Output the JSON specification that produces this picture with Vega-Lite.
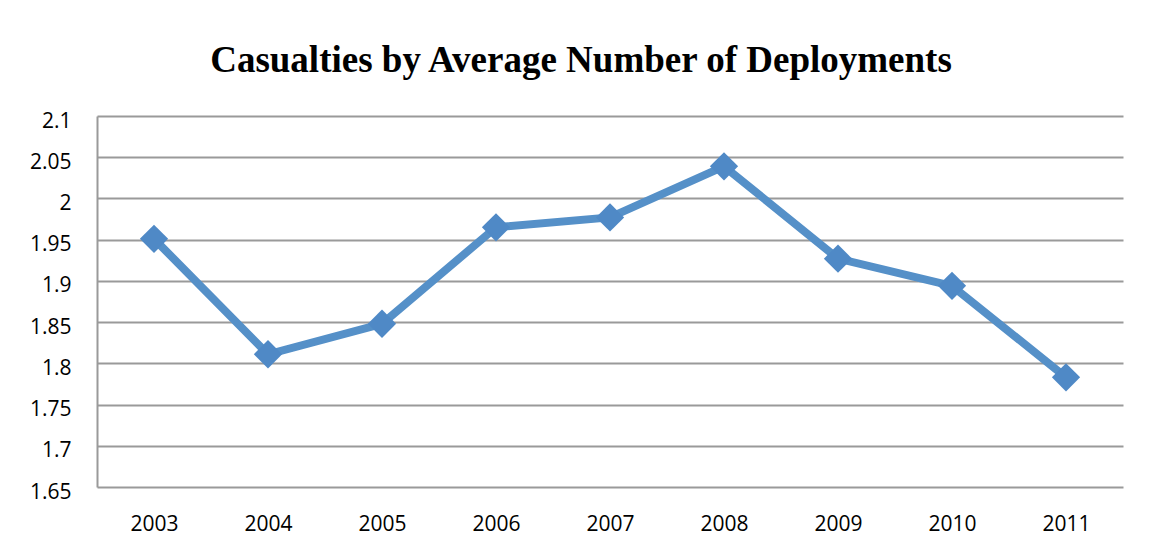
{
  "$schema": "https://vega.github.io/schema/vega-lite/v6.json",
  "autosize": "none",
  "width": 1026,
  "height": 371,
  "padding": {"left": 97, "top": 116, "right": 28, "bottom": 65},
  "background": "white",
  "title": {
    "text": "Casualties by Average Number of Deployments",
    "font": "Liberation Serif",
    "fontSize": 37,
    "fontWeight": "bold",
    "color": "black",
    "anchor": "middle",
    "frame": "group",
    "dx": -29,
    "baseline": "alphabetic",
    "offset": 1
  },
  "data": {
    "values": [
      {"year": "2003", "value": 1.951},
      {"year": "2004", "value": 1.811},
      {"year": "2005", "value": 1.848},
      {"year": "2006", "value": 1.965},
      {"year": "2007", "value": 1.977},
      {"year": "2008", "value": 2.039},
      {"year": "2009", "value": 1.927},
      {"year": "2010", "value": 1.894},
      {"year": "2011", "value": 1.783}
    ]
  },
  "config": {
    "view": {"stroke": null},
    "axis": {
      "labelFont": "Open Sans",
      "labelFontSize": 21,
      "labelColor": "black",
      "title": null,
      "ticks": false
    }
  },
  "encoding": {
    "x": {
      "field": "year",
      "type": "ordinal",
      "scale": {"type": "point", "padding": 0.5},
      "axis": {
        "labelAngle": 0,
        "labelPadding": 26,
        "domain": false,
        "grid": false
      }
    },
    "y": {
      "field": "value",
      "type": "quantitative",
      "scale": {"domain": [1.65, 2.1], "nice": false, "zero": false},
      "axis": {
        "values": [1.65, 1.7, 1.75, 1.8, 1.85, 1.9, 1.95, 2.0, 2.05, 2.1],
        "format": ".2~f",
        "labelPadding": 26,
        "labelOffset": 5,
        "domain": true,
        "domainColor": "#9a9a9a",
        "domainWidth": 2,
        "grid": true,
        "gridColor": "#9a9a9a",
        "gridWidth": 2
      }
    }
  },
  "layer": [
    {
      "mark": {"type": "line", "color": "#5590c8", "strokeWidth": 8, "strokeJoin": "miter"}
    },
    {
      "mark": {"type": "point", "shape": "diamond", "filled": true, "size": 800, "color": "#4f89c6", "opacity": 1}
    }
  ]
}
